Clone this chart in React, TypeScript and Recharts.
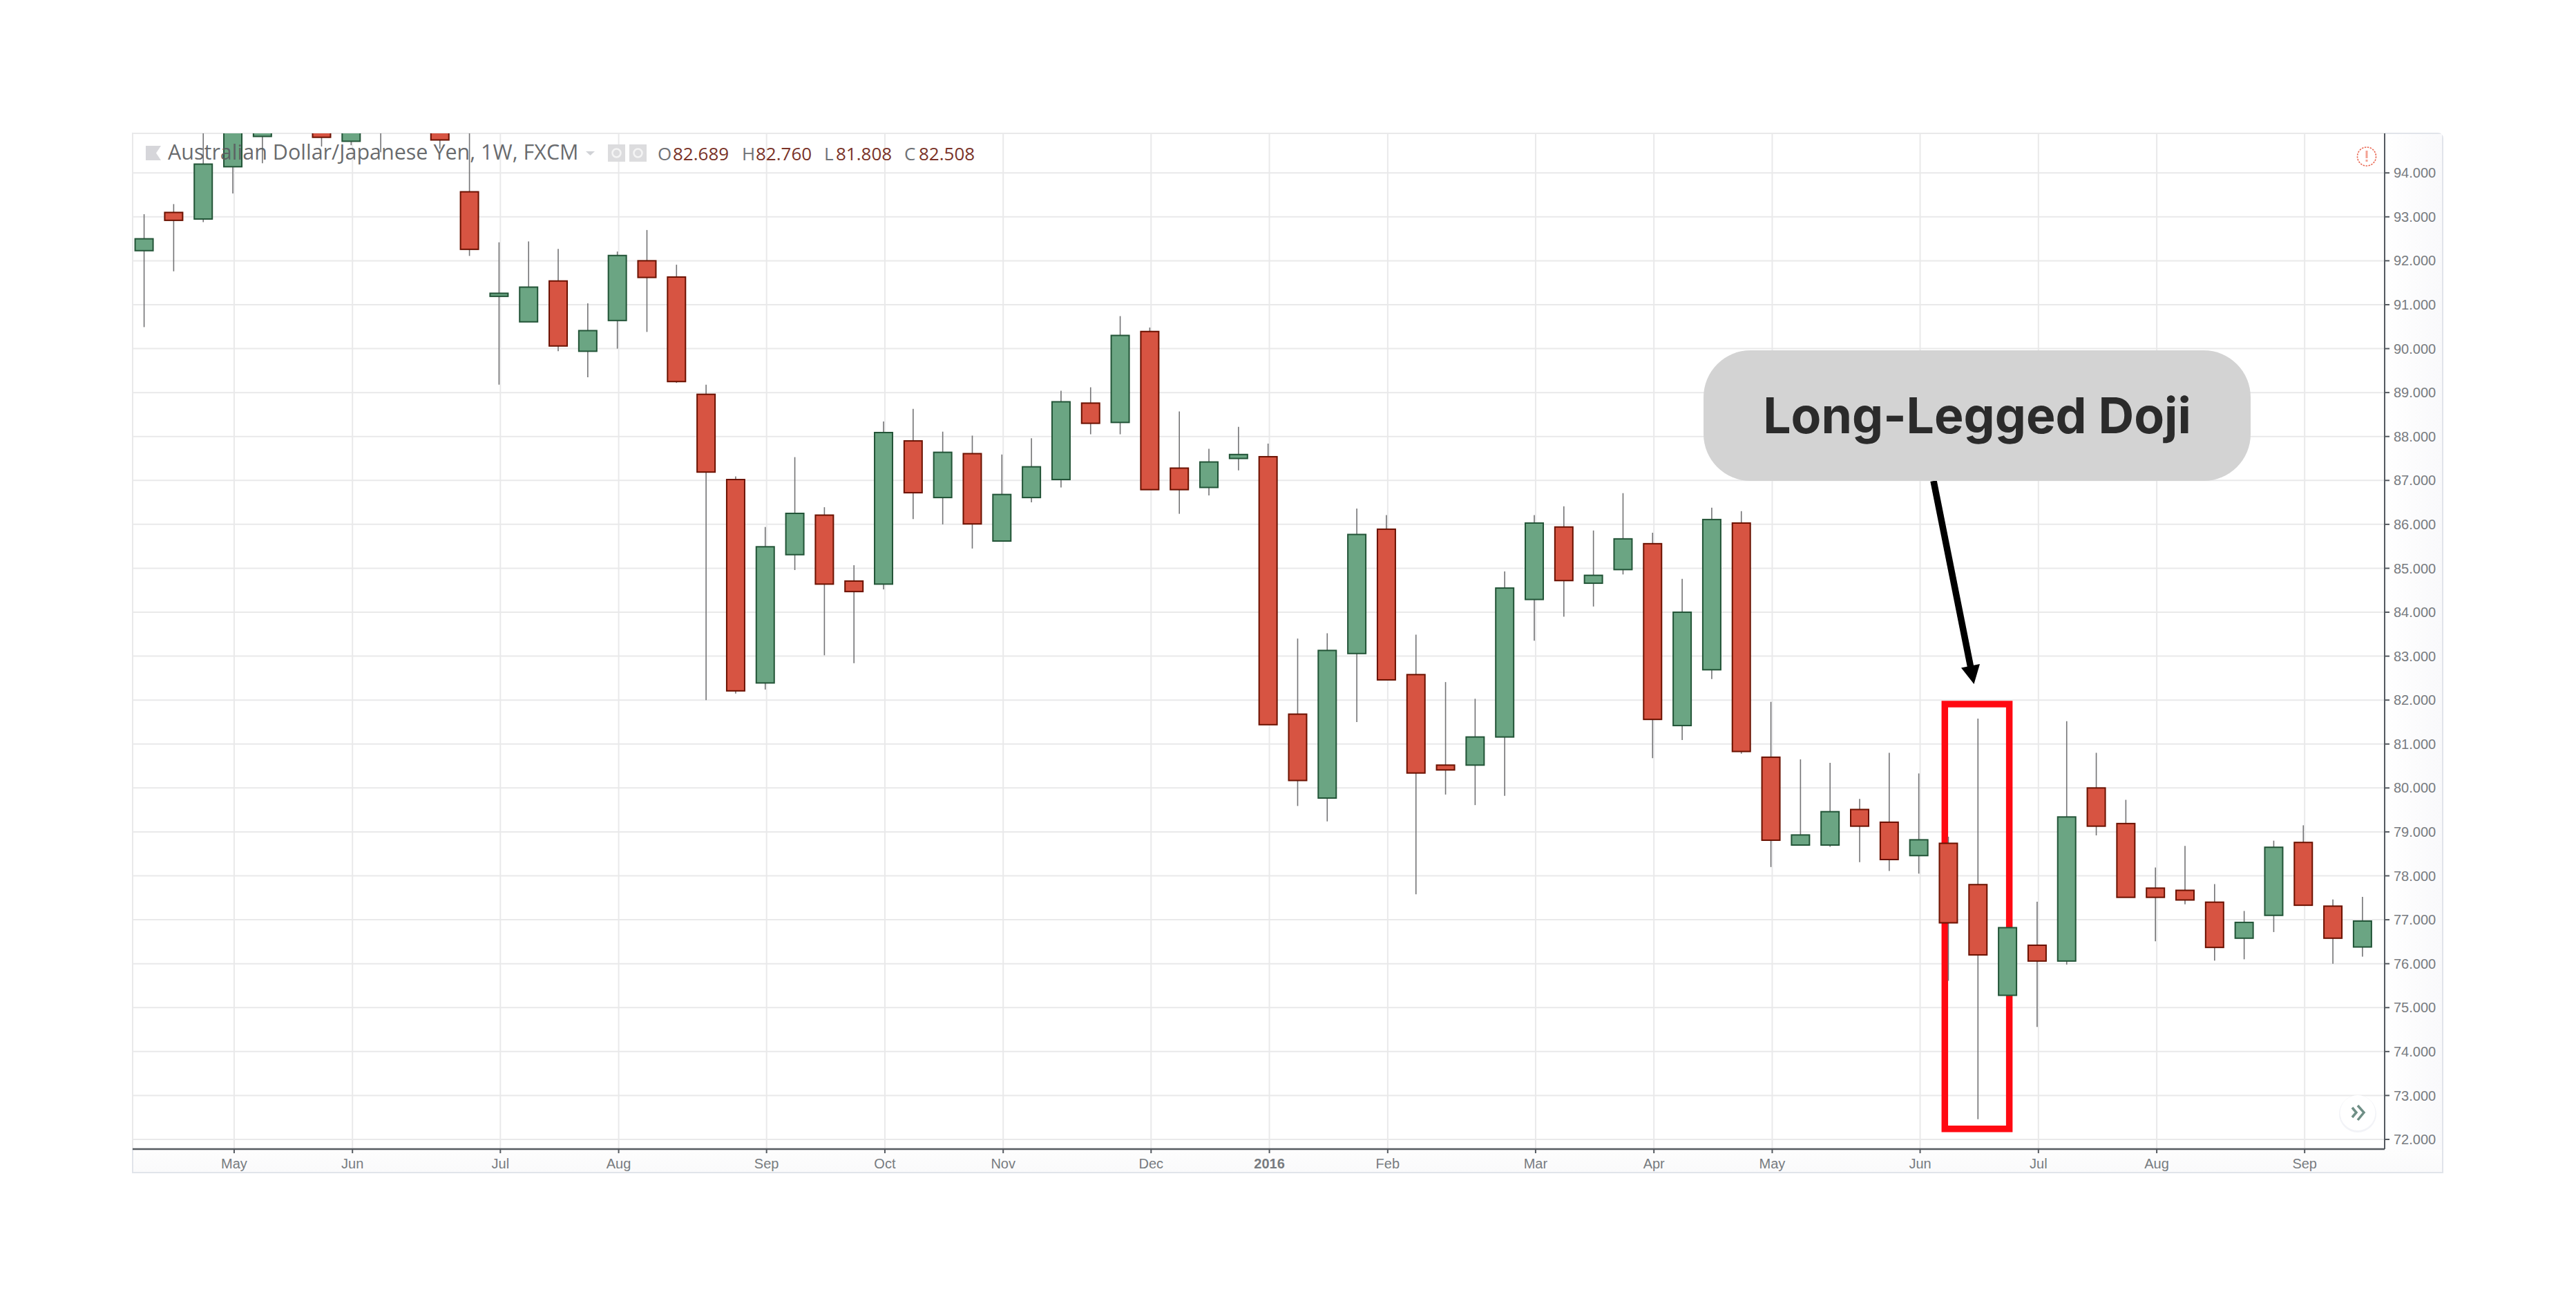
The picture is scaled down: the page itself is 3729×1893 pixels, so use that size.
import React from "react";
import { Bar, CartesianGrid, ComposedChart, ReferenceArea, XAxis, YAxis } from "recharts";

// weekly AUD/JPY; weeks 2-10 run off the top of the pane
const opens = [
  92.23, 93.1, 92.95, 94.14, 94.83, 95.5, 95.3, 94.72, 95.1, 95.5, 95.2, 93.57, 91.19, 90.61, 91.54, 89.94, 90.64, 92.0, 91.63,
  88.96, 87.02, 82.39, 85.31, 86.21, 84.71, 84.64, 87.9, 86.61, 87.61, 85.62, 86.61, 87.02, 88.76, 88.32, 90.39, 87.28, 86.84, 87.5,
  87.54, 81.68, 79.77, 83.06, 85.89, 82.58, 80.52, 80.52, 81.16, 84.29, 85.94, 84.66, 84.97, 85.56, 81.42, 82.69, 86.03, 80.7, 78.7,
  78.7, 79.51, 79.22, 78.46, 78.74, 77.8, 75.28, 76.42, 76.06, 80.0, 79.19, 77.72, 77.67, 77.4, 76.58, 77.1, 78.76, 77.31, 76.38,
];
const highs = [
  93.06, 93.29, 95.3, 95.5, 95.4, 96.0, 95.5, 95.4, 95.5, 96.0, 95.4, 95.3, 92.42, 92.44, 92.27, 91.03, 92.21, 92.7, 91.91,
  89.18, 87.09, 85.94, 87.53, 86.39, 85.07, 88.34, 88.63, 88.11, 88.02, 87.59, 87.96, 89.04, 89.12, 90.74, 90.48, 88.57, 87.72, 88.22,
  87.84, 83.4, 83.52, 86.36, 86.21, 83.49, 82.41, 82.03, 84.93, 86.21, 86.41, 85.86, 86.71, 85.81, 84.76, 86.38, 86.3, 81.96, 80.65,
  80.57, 79.75, 80.8, 80.33, 78.89, 81.58, 76.82, 77.41, 81.52, 80.8, 79.73, 78.19, 78.68, 77.81, 77.2, 78.8, 79.15, 77.46, 77.52,
];
const lows = [
  90.49, 91.76, 92.88, 93.53, 94.22, 95.1, 94.6, 94.63, 94.47, 95.1, 94.55, 92.11, 89.18, 90.61, 89.94, 89.35, 90.0, 90.38, 89.22,
  82.0, 82.15, 82.24, 84.96, 83.02, 82.84, 84.52, 86.12, 86.0, 85.45, 85.62, 86.5, 86.84, 88.05, 88.05, 86.79, 86.24, 86.66, 87.23,
  81.44, 79.59, 79.24, 81.5, 82.46, 77.58, 79.85, 79.61, 79.82, 83.35, 83.9, 84.13, 84.86, 80.68, 81.09, 82.48, 80.78, 78.2, 78.7,
  78.66, 78.31, 78.11, 78.05, 75.61, 72.46, 75.28, 74.56, 75.98, 78.92, 77.51, 76.51, 77.35, 76.07, 76.1, 76.72, 77.33, 76.0, 76.16,
];
const closes = [
  92.5, 92.92, 94.2, 95.2, 95.0, 95.9, 94.81, 95.2, 95.3, 95.8, 94.75, 92.26, 91.26, 91.4, 90.06, 90.41, 92.12, 91.62, 89.25,
  87.19, 82.21, 85.49, 86.25, 84.64, 84.47, 88.09, 86.72, 87.64, 86.01, 86.68, 87.31, 88.79, 88.3, 90.3, 86.79, 86.79, 87.42, 87.59,
  81.44, 80.17, 83.13, 85.77, 82.46, 80.34, 80.41, 81.16, 84.55, 86.03, 84.72, 84.84, 85.67, 81.56, 84.0, 86.11, 80.83, 78.81, 78.93,
  79.46, 79.13, 78.37, 78.82, 76.93, 76.2, 76.82, 76.06, 79.34, 79.13, 77.51, 77.51, 77.45, 76.37, 76.94, 78.65, 77.33, 76.58, 76.97,
];

const monthWeeks = [3, 7, 12, 16, 21, 25, 29, 34, 38, 42, 47, 51, 55, 60, 64, 68, 73];
const monthLabels = ["May", "Jun", "Jul", "Aug", "Sep", "Oct", "Nov", "Dec", "2016", "Feb", "Mar", "Apr", "May", "Jun", "Jul", "Aug", "Sep"];
const priceTicks = [72, 73, 74, 75, 76, 77, 78, 79, 80, 81, 82, 83, 84, 85, 86, 87, 88, 89, 90, 91, 92, 93, 94];

// the month grid sits a hair right of the candle centres in the source
const GRID_NUDGE = 0.035;
const monthTicks = monthWeeks.map((w) => w + GRID_NUDGE);

const candles = opens.map((open, i) => ({
  week: i,
  open,
  high: highs[i],
  low: lows[i],
  close: closes[i],
}));

const UP = { fill: "#6BA583", stroke: "#225437" };
const DOWN = { fill: "#D75442", stroke: "#6B1100" };
const AXIS = "#555a60";
const LABEL = "#777b80";
const SANS = "'Liberation Sans', Arial, sans-serif";

function Candle(props: any) {
  const { x, y, width, height, payload } = props;
  const perUnit = height / (payload.high - payload.low);
  const cx = x + width / 2;
  const bodyTop = y + (payload.high - Math.max(payload.open, payload.close)) * perUnit;
  const bodyBottom = y + (payload.high - Math.min(payload.open, payload.close)) * perUnit;
  const colors = payload.close >= payload.open ? UP : DOWN;
  return (
    <g>
      <line x1={cx} x2={cx} y1={y} y2={y + height} stroke="#737375" strokeWidth={1.6} />
      <rect
        x={x}
        y={bodyTop}
        width={width}
        height={Math.max(bodyBottom - bodyTop, 1)}
        fill={colors.fill}
        stroke={colors.stroke}
        strokeWidth={2}
      />
    </g>
  );
}

function MonthTick(props: any) {
  const { x, y, payload } = props;
  const label = monthLabels[monthTicks.indexOf(payload.value)];
  return (
    <text
      x={x}
      y={y + 20}
      textAnchor="middle"
      fontFamily={SANS}
      fontSize={20}
      fontWeight={label === "2016" ? 700 : 400}
      fill={LABEL}
    >
      {label}
    </text>
  );
}

function Annotations() {
  return (
    <svg width={3729} height={1893} style={{ position: "absolute", left: 0, top: 0, pointerEvents: "none" }}>
      {/* symbol line */}
      <path d="M211 211 L233 211 L226 221.5 L233 232 L211 232 Z" fill="#d6d6da" />
      <text x={243} y={231} fontFamily="'Open Sans', sans-serif" fontSize={30.5} fill="#5a5c60" fillOpacity={0.92}>
        Australian Dollar/Japanese Yen, 1W, FXCM
      </text>
      <path d="M848 219 L861 219 L854.5 225 Z" fill="#d0d2d6" />
      <rect x={880} y={209} width={25} height={25} fill="#dcdcde" />
      <circle cx={892.5} cy={221.5} r={6} fill="none" stroke="#f4f4f4" strokeWidth={2.5} />
      <rect x={911} y={209} width={25} height={25} fill="#dcdcde" />
      <circle cx={923.5} cy={221.5} r={6} fill="none" stroke="#f4f4f4" strokeWidth={2.5} />
      <text y={232} fontFamily="'Open Sans', sans-serif" fontSize={26}>
        <tspan x={952} fill="#6f7276">O</tspan>
        <tspan x={974} fill="#7a3328">82.689</tspan>
        <tspan x={1074} fill="#6f7276">H</tspan>
        <tspan x={1094} fill="#7a3328">82.760</tspan>
        <tspan x={1193} fill="#6f7276">L</tspan>
        <tspan x={1210} fill="#7a3328">81.808</tspan>
        <tspan x={1309} fill="#6f7276">C</tspan>
        <tspan x={1330} fill="#7a3328">82.508</tspan>
      </text>

      {/* warning badge */}
      <circle cx={3426} cy={226.5} r={13.5} fill="#fff" stroke="#ea6a55" strokeWidth={1.6} strokeDasharray="2.5 1.5" />
      <rect x={3424.5} y={218} width={3} height={11} fill="#f3a294" />
      <rect x={3424.5} y={231} width={3} height={3} fill="#f3a294" />

      {/* scroll button */}
      <circle cx={3413} cy={1612} r={27} fill="#e9ebf2" opacity={0.6} />
      <circle cx={3413} cy={1610.5} r={25.5} fill="#fff" />
      <path d="M3405 1603 L3411 1610 L3405 1617 M3413 1600 L3422 1610 L3413 1621" fill="none" stroke="#6f8f86" strokeWidth={3.5} />

      {/* callout */}
      <line x1={2799} y1={696} x2={2854} y2={972} stroke="#000" strokeWidth={9.5} />
      <path d="M2839 966.5 L2866 961 L2857.5 990 Z" fill="#000" />
      <rect x={2466} y={507} width={792} height={189} rx={68} ry={68} fill="#d3d3d3" />
      <text x={2862} y={627} textAnchor="middle" fontFamily="Inter, sans-serif" fontWeight={700} fontSize={71.5} fill="#2b2b2b">
        Long-Legged Doji
      </text>
    </svg>
  );
}

export default function App() {
  return (
    <div style={{ position: "absolute", left: 0, top: 0, width: 3729, height: 1893, background: "#fff", overflow: "hidden" }}>
      <div
        style={{
          position: "absolute",
          left: 191,
          top: 192,
          width: 3346,
          height: 1506,
          boxSizing: "border-box",
          border: "2px solid #e1e4ea",
          borderTopRightRadius: 8,
          background: "#fff",
        }}
      />
      <div style={{ position: "absolute", left: 193, top: 1664, width: 3342, height: 32, background: "linear-gradient(#fdfdfd, #fafafb)" }} />
      <div style={{ position: "absolute", left: 3453, top: 194, width: 82, height: 1470, background: "linear-gradient(90deg, #fff, #f9f9fb)" }} />
      <div style={{ position: "absolute", left: 0, top: 0 }}>
        <ComposedChart
          width={3729}
          height={1893}
          data={candles}
          margin={{ top: 193, left: 192, right: 192, bottom: 194 }}
        >
          <CartesianGrid stroke="#e9e9ea" strokeWidth={2} />
          <XAxis
            type="number"
            dataKey="week"
            domain={[-0.397, 75.74]}
            allowDataOverflow
            ticks={monthTicks}
            interval={0}
            height={36}
            tick={MonthTick}
            tickSize={6}
            tickLine={{ stroke: AXIS, strokeWidth: 2 }}
            axisLine={{ stroke: AXIS, strokeWidth: 2.5 }}
          />
          <YAxis
            orientation="right"
            type="number"
            domain={[71.78, 94.9]}
            allowDataOverflow
            ticks={priceTicks}
            interval={0}
            width={85}
            tickSize={7}
            tickMargin={6}
            tickFormatter={(v: number) => v.toFixed(3)}
            tick={{ fill: LABEL, fontSize: 20, fontFamily: SANS }}
            tickLine={{ stroke: AXIS, strokeWidth: 2 }}
            axisLine={{ stroke: AXIS, strokeWidth: 2 }}
          />
          <Bar
            dataKey={(d: any) => [d.low, d.high]}
            barSize={26}
            shape={Candle}
            isAnimationActive={false}
          />
          <ReferenceArea
            x1={60.87}
            x2={63.05}
            y1={72.24}
            y2={81.91}
            fill="none"
            stroke="#ff0a12"
            strokeWidth={9.5}
            fillOpacity={0}
          />
        </ComposedChart>
      </div>
      <Annotations />
    </div>
  );
}
